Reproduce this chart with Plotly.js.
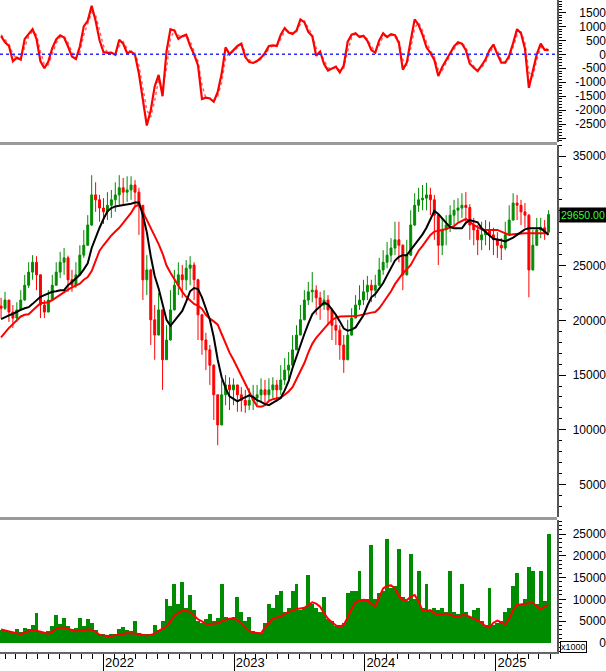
<!DOCTYPE html>
<html><head><meta charset="utf-8">
<script src="https://cdn.plot.ly/plotly-3.0.1.min.js"></script>
<style>html,body{margin:0;padding:0;background:#fff}#chart{width:606px;height:671px}</style>
</head><body><div id="chart"></div>
<script>
// ---- time base (one sample every 11 days) ----
const startDate = '2021-03-21';
const stepDays = 11;

// ---- price (OHLC) ----
const open = [21300,21100,21850,20750,20200,20950,21850,23200,24400,25300,
24150,21400,20750,21850,23200,24400,25300,25700,23700,23200,
24150,25950,26850,28700,31450,31000,30250,29900,30500,31000,
31450,32100,31700,31900,32350,31700,30500,23700,24600,20050,
18650,20950,16400,18200,20950,23200,24150,23700,24750,25050,
23700,20500,18200,17300,15900,13200,10450,13200,14100,13650,
14100,13200,12700,12250,12700,12900,13200,13650,13200,13650,
14100,13650,14550,15450,15900,17300,18650,20050,21850,22600,
22750,22050,21400,21850,20950,19550,19100,17750,16400,18650,
20200,21400,21850,22600,23200,22750,23200,24600,25300,25950,
26600,27350,26850,24150,25950,28700,30500,31000,31150,31450,
31000,29600,26850,28250,28700,29600,30050,30250,30500,30300,
28700,28250,27350,27800,28250,27800,27350,26850,26600,27800,
29150,30700,30500,29900,29600,24600,26850,28250,28450,28050];
const high = [22050,22600,21850,21400,21650,22750,24150,25300,25950,25850,
24200,21850,22750,24150,25300,26250,26600,25900,24600,25300,
26850,28250,29600,33250,32600,31450,31150,31700,31900,32600,
33250,33000,33150,33150,32800,32100,30500,25950,24700,21400,
22500,21000,19550,22750,24600,25300,25050,25500,25850,25300,
23800,20600,18850,17750,16000,13200,14550,15000,14800,14700,
14100,13900,13650,13800,14100,14100,14700,14550,14700,14800,
14550,15900,16550,17100,18650,19550,21400,22750,23500,24400,
23200,22600,22750,22300,21100,20500,19550,18650,20050,21100,
22300,23200,23700,24050,23700,24150,25700,26400,27150,27500,
29000,29000,26950,27350,30050,31600,32100,32350,32550,32100,
31450,29600,29350,29600,30500,31000,31150,31600,31700,30600,
29350,28700,29000,29150,29000,28450,28050,27500,29000,30500,
31600,31450,31000,30700,29700,28250,29350,29350,29150,30050];
const low = [20200,20950,19850,19300,19850,20950,21800,22950,23700,22750,
20200,20200,20750,21850,23200,23850,24150,22600,22600,22950,
24100,25700,26800,28600,29900,29000,28800,29150,29350,29900,
30500,30500,30800,31000,30500,27800,21850,22300,17750,16400,
18650,13650,16400,18150,20900,22300,22050,22750,23200,21850,
18200,16850,15450,14100,10900,8600,10400,12250,11800,12250,
11650,11650,11550,11800,11800,12250,12550,12250,12700,12900,
12550,13200,14100,14700,15850,17300,18650,20000,21400,21650,
20500,20050,20950,19550,18200,17750,16400,15200,16350,18600,
20200,20950,21400,21850,21650,22050,23200,24150,24750,25300,
25950,25300,22750,24100,25900,28600,29900,30050,30050,29600,
27350,25050,25950,26850,28050,28700,29000,29350,29000,27350,
26850,25950,26400,26850,26400,25950,25700,25500,26400,27800,
29100,29150,28700,28450,22100,24550,26800,27500,27350,28050];
const close = [21100,21850,20750,20200,20950,21850,23200,24400,25300,24150,
21400,20750,21850,23200,24400,25300,25700,23700,23200,24150,
25950,26850,28700,31450,31000,30250,29900,30500,31000,31450,
32100,31700,31900,32350,31700,30500,23700,24600,20050,18650,
20950,16400,18200,20950,23200,24150,23700,24750,25050,23700,
20500,18200,17300,15900,13200,10450,13200,14100,13650,14100,
13200,12700,12250,12700,12900,13200,13650,13200,13650,14100,
13650,14550,15450,15900,17300,18650,20050,21850,22600,22750,
22050,21400,21850,20950,19550,19100,17750,16400,18650,20200,
21400,21850,22600,23200,22750,23200,24600,25300,25950,26600,
27350,26850,24150,25950,28700,30500,31000,31150,31450,31000,
29600,26850,28250,28700,29600,30050,30250,30500,30300,28700,
28250,27350,27800,28250,27800,27350,26850,26600,27800,29150,
30700,30500,29900,29600,24600,26850,28250,28450,28050,29650];

// ---- price moving averages ----
const maShort = [20100,20300,20450,20600,20800,20950,21100,21200,21500,21850,
22150,22300,22450,22600,22650,22750,22750,23200,23500,23800,
24150,24650,25200,26600,27600,28450,29250,29950,30250,30400,
30450,30500,30550,30650,30750,30750,29600,28050,25850,24050,
22900,21400,20050,19500,19950,20350,20850,21700,22650,22950,
22850,22100,21100,20050,18450,16400,14800,13800,13050,12800,
12600,12800,13000,13150,13000,12700,12550,12350,12250,12450,
12700,12900,13600,14450,15650,16750,17700,18750,19700,20550,
20950,21250,21600,21450,21000,20500,19900,19250,19050,19150,
19350,19850,20450,21350,22100,22400,22900,23400,24100,24750,
25450,25800,25950,25950,26400,26850,27350,27850,28450,29250,
30000,29700,29250,28900,28500,28400,28400,28400,28900,29150,
29050,28950,28400,28050,27750,27450,27400,27300,27200,27350,
27550,27800,28050,28300,28400,28400,28400,28400,28100,27800];
const maLong = [18450,18900,19300,19650,20050,20350,20500,20550,20900,21250,
21550,21600,21650,21850,22100,22300,22550,22800,23000,23200,
23350,23700,23950,24500,25400,26350,26850,27350,27750,28100,
28450,28900,29300,29800,30400,30550,29900,29200,28400,27700,
26950,26100,25000,24350,23750,23200,22600,22150,21800,21500,
21350,21050,20500,20150,19900,19600,18750,17900,17050,16400,
15650,14850,14200,13450,12750,12150,12100,12250,12650,12800,
12900,12950,13200,13500,13900,14650,15250,16100,17050,17850,
18400,18850,19250,19650,20000,20250,20350,20350,20400,20400,
20400,20450,20550,20650,20700,20750,21100,21600,22100,22650,
23300,23850,24300,24650,25050,25700,26350,26800,27300,27800,
28100,28150,28250,28350,28450,28600,28900,29100,29250,29000,
28700,28500,28300,28250,28250,28250,28250,28100,27950,27800,
27850,27900,27950,27950,27950,27950,27900,27900,27900,27950];

// ---- oscillator (solid) and its signal (dotted) ----
const osc = [650,430,300,-250,-120,-190,550,730,900,550,
-250,-500,-260,220,530,680,600,280,-80,-170,
280,1000,1200,1740,1200,500,80,50,60,-20,
520,380,40,100,-20,-700,-1600,-2550,-2000,-1150,
-740,-1500,100,900,850,550,650,700,300,0,
-400,-1600,-1550,-1580,-1700,-1350,-700,250,0,150,
300,380,-100,-280,-310,-240,-120,50,300,320,
300,700,940,780,730,850,1250,1150,800,650,
-50,100,-350,-580,-500,-440,-650,-400,450,700,
750,620,660,480,150,60,500,750,620,720,
680,400,-550,-300,500,1250,1050,700,250,50,
-200,-780,-450,-200,50,280,430,380,150,-340,
-480,-600,-400,-180,150,350,0,-300,-300,-50,
400,900,750,200,-1200,-550,0,380,160,150];
const signal = [700,520,360,0,-150,-160,250,650,820,700,
100,-380,-380,0,400,620,640,420,80,-130,
80,700,1100,1500,1400,800,300,70,60,20,
300,450,200,70,40,-400,-1200,-2000,-2250,-1650,
-900,-1200,-500,550,870,680,610,680,460,120,
-250,-1100,-1570,-1570,-1650,-1500,-1000,-150,100,90,
240,350,100,-200,-300,-270,-170,-20,200,310,
310,540,840,840,750,800,1090,1190,940,710,
220,30,-200,-490,-530,-460,-570,-500,120,600,
730,670,640,550,280,100,320,650,670,680,
690,510,-190,-400,200,950,1130,840,430,130,
-100,-550,-580,-300,-50,190,370,400,250,-150,
-430,-550,-480,-270,30,270,140,-200,-300,-150,
250,700,800,400,-650,-800,-200,230,250,150];

// ---- volume (x1000) and its moving average ----
const volume = [3000,2800,2600,2500,3200,2400,3500,3200,4000,6900,
2600,2300,2600,3800,6400,4200,5800,3800,3200,3400,
5600,3800,5400,4500,3000,2000,1900,1800,1900,2000,
3200,3600,3000,2800,4900,2200,1900,2000,2100,4000,
3000,5000,10000,8500,13500,9000,14000,8000,11000,7500,
5000,4600,5500,6500,5000,5800,13500,6000,5500,6000,
10500,7000,5000,6000,2600,2200,2300,4500,9000,8000,
11000,12000,7000,8000,12000,13500,7500,8000,15500,9000,
8000,7000,10500,5500,5000,3800,4000,4500,11500,12000,
12000,16500,10000,10000,22500,10000,11500,12000,24000,12500,
13000,21500,10500,9500,20500,10000,16500,8000,13500,7500,
8000,7500,8000,7000,16500,7000,6500,13500,7000,6000,
7500,8000,5000,4000,12500,4000,4500,5000,7000,8000,
13000,16000,9000,10000,17500,16500,9000,16500,9500,25000];
const volumeMA = [3050,2800,2600,2400,2150,1950,2350,2700,2900,2750,
2500,2250,2050,2500,3200,3450,3500,3200,2900,2600,
2800,3000,3050,3000,2500,1800,1650,1550,1550,1700,
1900,2050,2150,2150,2150,2000,1800,1650,1800,2100,
2700,3200,3700,4900,6200,6900,7350,7300,7100,6200,
5400,4900,4350,4300,4400,4500,4900,5300,5500,5600,
5200,4500,3500,2700,2300,2200,2150,3500,4600,5550,
5800,6050,6600,7100,7400,7750,7900,8050,8600,9300,
9000,8300,6800,5500,4700,4000,3700,4100,5800,7800,
9300,9700,9900,9800,9000,8300,10500,12500,13100,13200,
12500,10800,9900,9800,10600,11000,9500,7400,7300,7500,
6800,6400,6600,6750,6500,6100,6050,6300,6350,6000,
5600,5100,4600,3800,3500,4600,5100,4700,4200,5500,
7500,8700,8800,8850,9000,9200,8400,7700,8300,8700];

// ---- axis tick labels ----
const oscTicks = [-2500,-2000,-1500,-1000,-500,0,500,1000,1500];
const priceTicks = [5000,10000,15000,20000,25000,35000];
const volTicks = [0,5000,10000,15000,20000,25000];
const lastPriceLabel = '29650.00';
const lastPrice = 29650;

const dates = [];
const t0 = Date.parse(startDate + 'T00:00:00Z');
for (let i = 0; i < close.length; i++) {
  dates.push(new Date(t0 + i * stepDays * 86400000).toISOString().slice(0, 10));
}

const FONT = 'Arial, "Liberation Sans", sans-serif';
const xd = 557 / 606;
const dOsc = [1 - 142 / 652, 1];
const dPrice = [1 - 517 / 652, 1 - 145 / 652];
const dVol = [0, 1 - 520 / 652];
const rOsc = [-3140, 1944];
const rPrice = [2041, 36005];
const rVol = [-2143, 28270];

const traces = [
  {type:'scatter', mode:'lines', x:dates, y:signal, xaxis:'x', yaxis:'y',
   line:{color:'#ff6060', width:1.5, dash:'dot'}, hoverinfo:'skip'},
  {type:'scatter', mode:'lines', x:dates, y:osc, xaxis:'x', yaxis:'y',
   line:{color:'#ff0000', width:2.2}, hoverinfo:'skip'},
  {type:'candlestick', x:dates, open:open, high:high, low:low, close:close,
   xaxis:'x', yaxis:'y2', whiskerwidth:0,
   increasing:{line:{color:'#008c00', width:1}, fillcolor:'#008c00'},
   decreasing:{line:{color:'#ff0000', width:1}, fillcolor:'#ff0000'}, hoverinfo:'skip'},
  {type:'scatter', mode:'lines', x:dates, y:maLong, xaxis:'x', yaxis:'y2',
   line:{color:'#ff0000', width:2}, hoverinfo:'skip'},
  {type:'scatter', mode:'lines', x:dates, y:maShort, xaxis:'x', yaxis:'y2',
   line:{color:'#000000', width:2}, hoverinfo:'skip'},
  {type:'bar', x:dates, y:volume, xaxis:'x', yaxis:'y3',
   marker:{color:'#008c00', line:{width:0}}, hoverinfo:'skip'},
  {type:'scatter', mode:'lines', x:dates, y:volumeMA, xaxis:'x', yaxis:'y3',
   line:{color:'#ff0000', width:2}, hoverinfo:'skip'},
  // empty traces so the right-hand label axes get drawn
  {type:'scatter', mode:'lines', x:[], y:[], xaxis:'x', yaxis:'y4', hoverinfo:'skip'},
  {type:'scatter', mode:'lines', x:[], y:[], xaxis:'x', yaxis:'y5', hoverinfo:'skip'},
  {type:'scatter', mode:'lines', x:[], y:[], xaxis:'x', yaxis:'y6', hoverinfo:'skip'}
];

function baseY(domain, range, dtick, minor) {
  return {domain:domain, range:range, side:'right', anchor:'x', showline:true,
    linecolor:'#555', linewidth:2, ticks:'outside', ticklen:7, tickcolor:'#000',
    dtick:dtick, tick0:0, showticklabels:false, showgrid:false, zeroline:false,
    minor:{dtick:minor, tick0:0, ticks:'outside', ticklen:3, tickcolor:'#000', showgrid:false}};
}
function labelY(over, range, vals) {
  return {overlaying:over, anchor:'free', position:1, side:'left', range:range,
    autorange:false, tickmode:'array', tickvals:vals, ticktext:vals.map(String), ticks:'',
    showline:false, showgrid:false, zeroline:false, showticklabels:true,
    tickfont:{family:FONT, size:12, color:'#000'}};
}

const layout = {
  width:606, height:671, margin:{l:0, r:0, t:0, b:19},
  paper_bgcolor:'#ffffff', plot_bgcolor:'#ffffff', showlegend:false,
  bargap:0, font:{family:FONT, size:12, color:'#000'},
  xaxis:{type:'date', domain:[0, xd], range:['2021-03-18', '2025-06-20 12:00'],
    anchor:'y3', rangeslider:{visible:false}, showgrid:false, zeroline:false,
    showline:true, linecolor:'#666', linewidth:2,
    ticks:'outside', ticklen:19, tickwidth:1, tickcolor:'#000',
    tick0:'2022-01-01', dtick:'M12', tickformat:'%Y',
    ticklabelposition:'outside right', ticklabelstandoff:-3,
    tickfont:{family:FONT, size:13, color:'#000'},
    minor:{dtick:'M1', tick0:'2021-01-01', ticks:'outside', ticklen:5, tickcolor:'#000', showgrid:false}},
  yaxis: baseY(dOsc, rOsc, 500, 100),
  yaxis2: baseY(dPrice, rPrice, 5000, 1000),
  yaxis3: baseY(dVol, rVol, 5000, 1000),
  yaxis4: labelY('y', rOsc, oscTicks),
  yaxis5: labelY('y2', rPrice, priceTicks),
  yaxis6: labelY('y3', rVol, volTicks),
  shapes:[
    {type:'line', xref:'paper', x0:0, x1:xd, yref:'y', y0:0, y1:0,
     line:{color:'#2a2aff', width:1.5, dash:'dot'}},
    {type:'line', xref:'paper', x0:0, x1:xd, yref:'paper', y0:(652-143.5)/652, y1:(652-143.5)/652,
     line:{color:'#9a9a9a', width:3}},
    {type:'line', xref:'paper', x0:0, x1:xd, yref:'paper', y0:(652-518.5)/652, y1:(652-518.5)/652,
     line:{color:'#9a9a9a', width:3}}
  ],
  annotations:[
    {xref:'paper', x:559/606, xanchor:'left', yref:'y2', y:lastPrice, yanchor:'middle',
     text:lastPriceLabel, showarrow:false, bgcolor:'#000000', borderpad:1,
     font:{family:FONT, size:10.5, color:'#33ff33'}},
    {xref:'paper', x:560/606, xanchor:'left', yref:'paper', y:(652-646.5)/652, yanchor:'middle',
     text:'x1000', showarrow:false, bgcolor:'#ffffff', bordercolor:'#000', borderwidth:1, borderpad:0,
     font:{family:FONT, size:9, color:'#000'}}
  ]
};

Plotly.newPlot('chart', traces, layout, {staticPlot:true, displayModeBar:false});
</script>
</body></html>
